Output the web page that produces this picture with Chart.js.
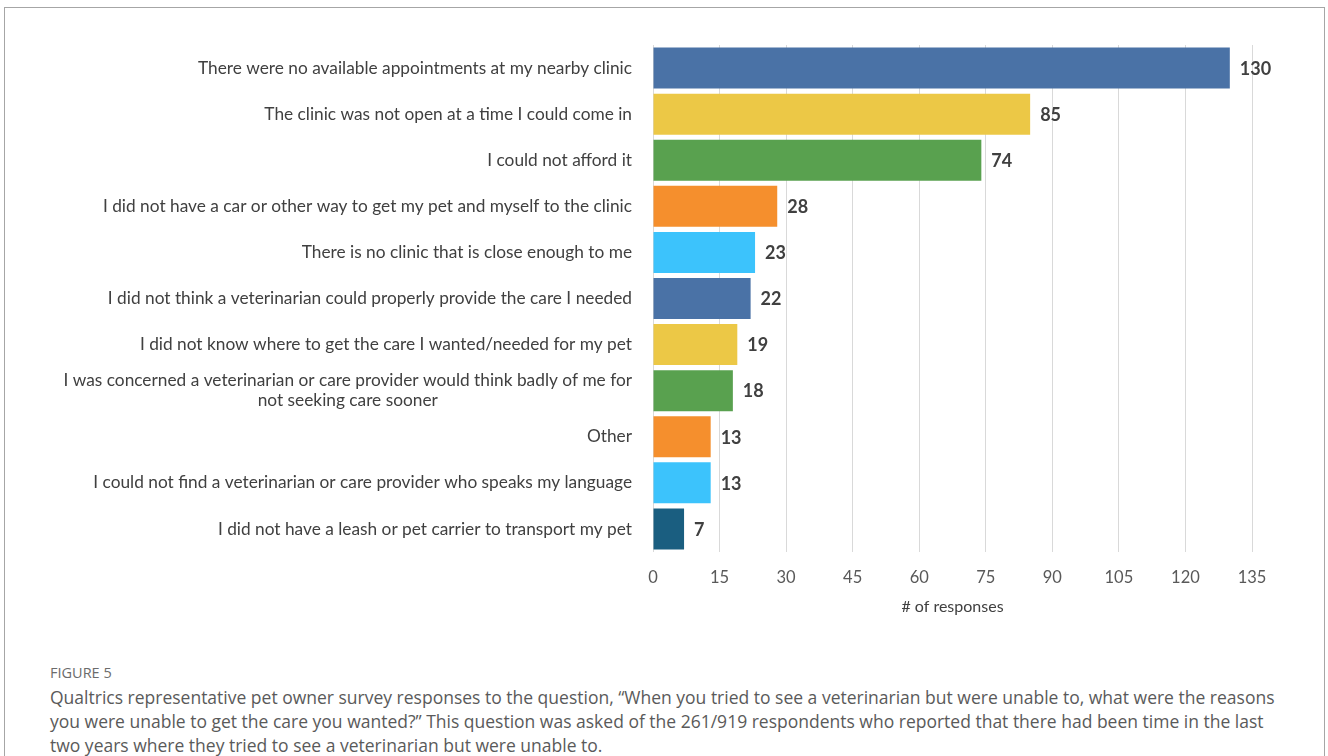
<!DOCTYPE html>
<html>
<head>
<meta charset="utf-8">
<script src="https://cdn.jsdelivr.net/npm/chart.js@4"></script>
<style>
  body { margin: 0; background: #fff; width: 1328px; height: 756px; overflow: hidden; position: relative; }
  #frame { position: absolute; left: 4px; top: 7px; width: 1319px; height: 760px; border: 1px solid #a6a6a6; }
  #wrap { position: absolute; left: 0; top: 0; }
  #fig { position: absolute; left: 50px; top: 663px; font: 14.5px "Open Sans"; color: #6b6b6b; }
  #cap { position: absolute; left: 50px; top: 685px; font: 17.5px/24px "Open Sans"; color: #5a5a5a; white-space: nowrap; }
</style>
</head>
<body>
<div id="frame"></div>
<div id="wrap"><canvas id="bar-chart" width="1328" height="640"></canvas></div>
<div id="fig">FIGURE 5</div>
<div id="cap">Qualtrics representative pet owner survey responses to the question, “When you tried to see a veterinarian but were unable to, what were the reasons<br>you were unable to get the care you wanted?” This question was asked of the 261/919 respondents who reported that there had been time in the last<br>two years where they tried to see a veterinarian but were unable to.</div>
<script>
// data
var reasons = [
  'There were no available appointments at my nearby clinic',
  'The clinic was not open at a time I could come in',
  'I could not afford it',
  'I did not have a car or other way to get my pet and myself to the clinic',
  'There is no clinic that is close enough to me',
  'I did not think a veterinarian could properly provide the care I needed',
  'I did not know where to get the care I wanted/needed for my pet',
  ['I was concerned a veterinarian or care provider would think badly of me for', 'not seeking care sooner'],
  'Other',
  'I could not find a veterinarian or care provider who speaks my language',
  'I did not have a leash or pet carrier to transport my pet'
];
var responses = [130, 85, 74, 28, 23, 22, 19, 18, 13, 13, 7];
var barColors = ['#4a72a6', '#ecc846', '#59a14f', '#f58f2d', '#3cc3fc', '#4a72a6', '#ecc846', '#59a14f', '#f58f2d', '#3cc3fc', '#1a5e80'];
var xTicks = [0, 15, 30, 45, 60, 75, 90, 105, 120, 135];

Chart.defaults.font.family = 'Lato';

// category names + value labels drawn by hand (centered wrap like the original)
var sideLabels = {
  id: 'sideLabels',
  afterDraw: function (chart) {
    var ctx = chart.ctx, x = chart.scales.x, y = chart.scales.y;
    var right = chart.chartArea.left - 21;
    ctx.save();
    ctx.textBaseline = 'middle';
    ctx.fillStyle = '#404040';
    ctx.font = '17.3px Lato';
    reasons.forEach(function (lab, i) {
      var yc = y.getPixelForValue(i);
      if (!Array.isArray(lab)) {
        ctx.textAlign = 'right';
        ctx.fillText(lab, right, yc);
        return;
      }
      var w = Math.max.apply(null, lab.map(function (l) { return ctx.measureText(l).width; }));
      ctx.textAlign = 'center';
      lab.forEach(function (l, j) {
        ctx.fillText(l, right - w / 2, yc + (j - (lab.length - 1) / 2) * 20);
      });
    });
    ctx.font = 'bold 18px Lato';
    ctx.textAlign = 'left';
    responses.forEach(function (v, i) {
      ctx.fillText(String(v), x.getPixelForValue(v) + 10, y.getPixelForValue(i) + 1);
    });
    ctx.restore();
  }
};

var ctxBar = document.getElementById('bar-chart').getContext('2d');
new Chart(ctxBar, {
  type: 'bar',
  data: {
    labels: reasons,
    datasets: [{
      label: '# of responses',
      data: responses,
      backgroundColor: barColors,
      borderWidth: 0,
      barPercentage: 0.89,
      categoryPercentage: 1
    }]
  },
  options: {
    indexAxis: 'y',
    responsive: false,
    animation: false,
    layout: { padding: { top: 45, right: 76, left: 0, bottom: 0 } },
    scales: {
      x: {
        min: 0,
        max: 135,
        afterFit: function (s) { s.height = 88; },
        afterBuildTicks: function (s) { s.ticks = xTicks.map(function (v) { return { value: v }; }); },
        grid: { color: '#d9d9d9', drawTicks: false },
        border: { display: false },
        ticks: { color: '#595959', padding: 16, font: { size: 16.5 } },
        title: { display: true, text: '# of responses', color: '#404040', font: { size: 16 }, padding: { top: 4, bottom: 24 } }
      },
      y: {
        afterFit: function (s) { s.width = 653; },
        grid: { display: false },
        border: { display: false },
        ticks: { display: false }
      }
    },
    plugins: {
      legend: { display: false },
      tooltip: { enabled: false }
    }
  },
  plugins: [sideLabels]
});
</script>
</body>
</html>
